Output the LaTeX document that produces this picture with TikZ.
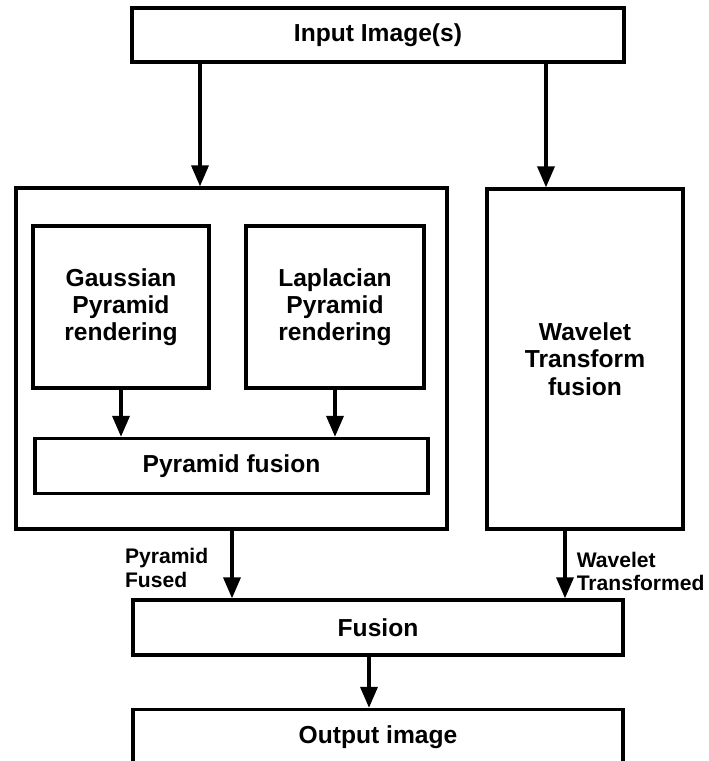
\documentclass[tikz,border=0pt]{standalone}
\usepackage{fontspec}
\setmainfont{Liberation Sans}
\usepackage{tikz}
\usetikzlibrary{arrows.meta, positioning, calc}
\tikzset{
	blockbox/.style={draw, line width=1.9pt, minimum width=#1, inner sep=2pt, align=center, font=\fontsize{14}{15.5}\selectfont\bfseries},
	flowarr/.style={-{Triangle[length=0.42cm, width=0.34cm]}, line width=2pt},
	sidelbl/.style={inner sep=0pt, align=left, font=\fontsize{12}{13.2}\selectfont\bfseries},
}

\begin{document}
\begin{tikzpicture}[
				x=0.02cm, y=-0.02cm,
				>=Stealth
			]
				\useasboundingbox (0,0) rectangle (709,761);
				\node[blockbox=9.84cm, minimum height=1.08cm] (input) at (378,35) {Input Image(s)};
				\node[blockbox=8.62cm, minimum height=6.82cm] (outer) at (231.5,358.5) {};
				\node[blockbox=3.52cm, minimum height=3.24cm] (gauss) at (121,307) {Gaussian\\Pyramid\\rendering};
				\node[blockbox=3.56cm, minimum height=3.24cm] (lapl) at (335,307) {Laplacian\\Pyramid\\rendering};
				\node[blockbox=7.86cm, minimum height=1.1cm] (pyrfuse) at (231.5,466) {Pyramid fusion};
				\node[blockbox=3.92cm, minimum height=6.8cm] (wavelet) at (585,359) {Wavelet\\Transform\\fusion};
				\node[blockbox=9.8cm, minimum height=1.1cm] (fusion) at (378,627.5) {Fusion};
				\node[blockbox=9.8cm, minimum height=1.1cm] (output) at (378,737) {Output image};
				% top branches
				\draw[flowarr] (input.south -| 200,0) -- (outer.north -| 200,0);
				\draw[flowarr] (input.south -| 546,0) -- (wavelet.north -| 546,0);
				% inside the pyramid block
				\draw[flowarr] (gauss.south) -- (gauss.south |- pyrfuse.north);
				\draw[flowarr] (lapl.south) -- (lapl.south |- pyrfuse.north);
				% into the fusion
				\draw[flowarr] (outer.south -| 232,0) -- (fusion.north -| 232,0)
					node[sidelbl, midway, left=0.44cm, yshift=-0.07cm] (pyrlbl) {Pyramid\\Fused};
				\draw[flowarr] (wavelet.south -| 565,0) -- (fusion.north -| 565,0)
					node[sidelbl, midway, right=0.2cm, yshift=-0.14cm] (wavlbl) {Wavelet\\Transformed};
				\draw[flowarr] (fusion.south -| 369,0) -- (output.north -| 369,0);
			\end{tikzpicture}
\end{document}
